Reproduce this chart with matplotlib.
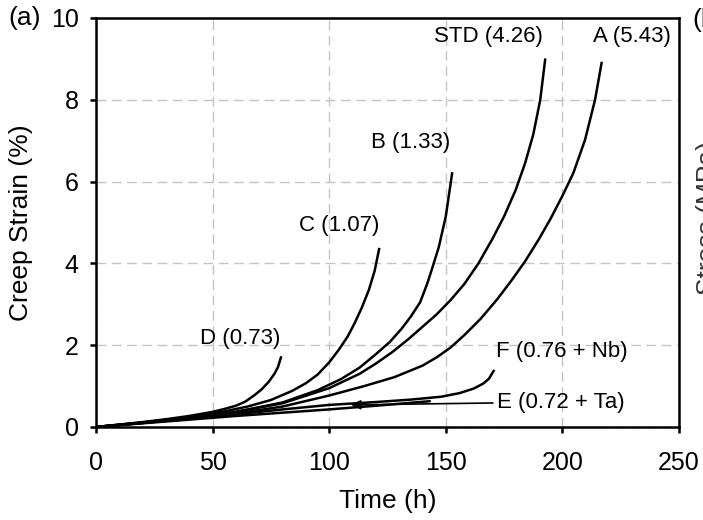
import matplotlib
matplotlib.use("Agg")
import matplotlib.pyplot as plt

plt.rcParams["font.family"] = ["Liberation Sans", "DejaVu Sans"]

# creep curves: time (h) and creep strain (%) for each alloy
t_D = [0, 10, 20, 30, 40, 50, 55, 60, 64, 68, 71, 74, 76.5, 78, 79.3]
s_D = [0, 0.06, 0.12, 0.19, 0.27, 0.37, 0.44, 0.52, 0.62, 0.78, 0.92, 1.10, 1.30, 1.46, 1.70]

t_C = [0, 20, 40, 55, 65, 75, 84, 90, 95, 100, 104, 108, 111, 114, 117, 119.5, 121.4]
s_C = [0, 0.11, 0.24, 0.38, 0.50, 0.66, 0.88, 1.07, 1.28, 1.58, 1.88, 2.22, 2.55, 2.92, 3.35, 3.82, 4.35]

t_B = [0, 20, 40, 60, 80, 95, 105, 113, 120, 126, 131, 135, 139, 142, 144, 147, 150, 152.7]
s_B = [0, 0.10, 0.22, 0.37, 0.60, 0.90, 1.17, 1.45, 1.78, 2.08, 2.40, 2.70, 3.05, 3.50, 3.85, 4.40, 5.15, 6.20]

t_STD = [0, 20, 40, 60, 80, 100, 113, 120, 127, 134, 140, 146, 152, 158, 164,
         170, 175, 180, 184, 187.5, 190.5, 192.6]
s_STD = [0, 0.11, 0.23, 0.37, 0.58, 0.95, 1.30, 1.55, 1.83, 2.15, 2.45, 2.75, 3.10, 3.50, 4.00,
         4.60, 5.15, 5.80, 6.45, 7.15, 8.00, 8.98]

t_A = [0, 20, 40, 60, 80, 100, 115, 128, 140, 146, 152, 158, 165, 172, 178, 184,
       190, 195, 200, 204.7, 209.7, 214, 216.8]
s_A = [0, 0.10, 0.21, 0.33, 0.50, 0.77, 1.00, 1.22, 1.50, 1.70, 1.94, 2.25, 2.65, 3.12, 3.57, 4.05,
       4.60, 5.10, 5.65, 6.21, 7.02, 8.00, 8.90]

t_F = [0, 20, 40, 60, 80, 100, 120, 135, 148, 156, 162, 166, 168.5, 170.5]
s_F = [0, 0.10, 0.20, 0.31, 0.43, 0.54, 0.61, 0.67, 0.74, 0.83, 0.94, 1.06, 1.18, 1.37]

t_E = [0, 20, 40, 60, 80, 100, 120, 143]
s_E = [0, 0.09, 0.18, 0.27, 0.35, 0.43, 0.52, 0.63]

curves = [(t_D, s_D), (t_C, s_C), (t_B, s_B), (t_STD, s_STD),
          (t_A, s_A), (t_F, s_F), (t_E, s_E)]

fig = plt.figure(figsize=(7.03, 5.20), dpi=100)
ax = fig.add_axes([96 / 703, 1 - 427 / 520, 583 / 703, 409 / 520])

for t, s in curves:
    ax.plot(t, s, color="black", lw=1.8, solid_joinstyle="round")

ax.set_xlim(0, 250)
ax.set_ylim(0, 10)
ax.set_xticks([0, 50, 100, 150, 200, 250])
ax.set_yticks([0, 2, 4, 6, 8, 10])
ax.grid(True, color="#c4c4c4", lw=1.0, linestyle=(0, (7, 4)))
ax.set_axisbelow(True)
for sp in ax.spines.values():
    sp.set_linewidth(1.8)
ax.tick_params(direction="out", length=4.5, width=1.8, labelsize=18)
ax.tick_params(axis="y", pad=8)
ax.tick_params(axis="x", pad=13)

ax.set_xlabel("Time (h)", fontsize=19)
ax.set_ylabel("Creep Strain (%)", fontsize=19)
ax.xaxis.set_label_coords(0.5, -0.152)
ax.yaxis.set_label_coords(-0.108, 0.5)

# curve labels (number in brackets is the alloy ratio)
fs = 16
ax.text(168.4, 9.54, "STD (4.26)", fontsize=fs, ha="center", va="center")
ax.text(230.0, 9.54, "A (5.43)", fontsize=fs, ha="center", va="center")
ax.text(134.8, 6.95, "B (1.33)", fontsize=fs, ha="center", va="center")
ax.text(104.3, 4.92, "C (1.07)", fontsize=fs, ha="center", va="center")
ax.text(62.0, 2.17, "D (0.73)", fontsize=fs, ha="center", va="center")
ax.text(171.5, 1.85, "F (0.76 + Nb)", fontsize=fs, ha="left", va="center")
ax.annotate("E (0.72 + Ta)", xy=(109.4, 0.54), xytext=(172.0, 0.61),
            fontsize=fs, ha="left", va="center",
            arrowprops=dict(arrowstyle="-|>", color="black", lw=1.2,
                            mutation_scale=14, shrinkA=1, shrinkB=0))

fig.text(8 / 703, 1 - 18 / 520, "(a)", fontsize=19, ha="left", va="center")
# edge of the neighbouring panel
fig.text(692 / 703, 1 - 20 / 520, "(b)", fontsize=19, ha="left", va="center")
fig.text(696 / 703, 1 - 218 / 520, "Stress (MPa)", fontsize=19, rotation=90,
         ha="left", va="center", color="#333333")

fig.savefig("out.png", dpi=100)
